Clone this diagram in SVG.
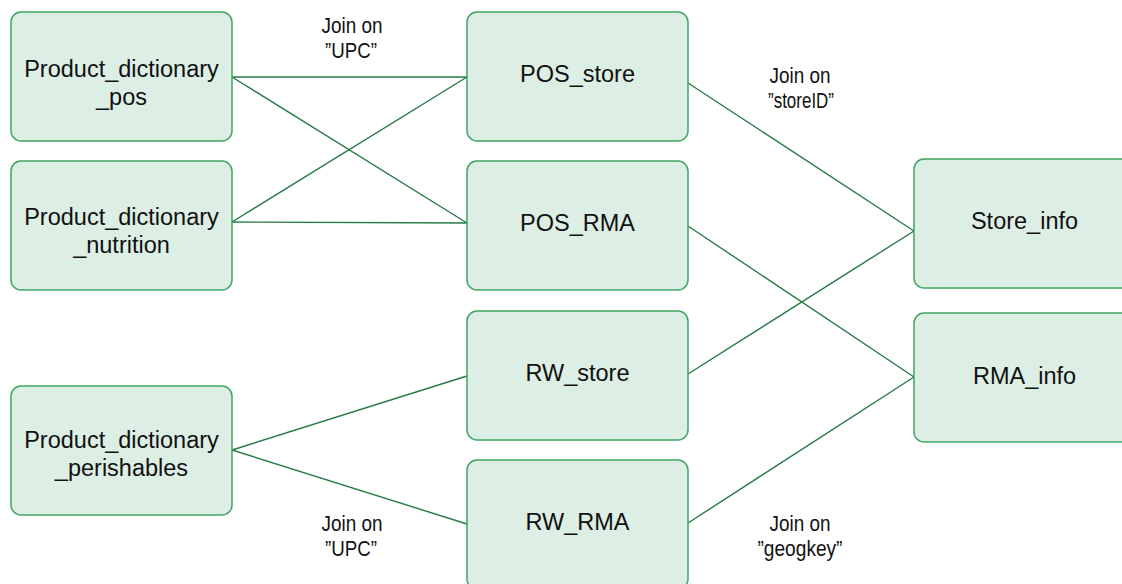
<svg xmlns="http://www.w3.org/2000/svg" width="1122" height="584" viewBox="0 0 1122 584">
<style>
.box{fill:#ddeee5;stroke:#3fa562;stroke-width:1.5}
.lbl{font-family:"Liberation Sans",Arial,sans-serif;font-size:23.5px;fill:#111;text-anchor:middle}
.join{font-family:"Liberation Sans",Arial,sans-serif;font-size:22px;fill:#111;text-anchor:middle}
.edge{stroke:#257a45;stroke-width:1.4;fill:none}
</style>
<rect width="1122" height="584" fill="#ffffff"/>
<g id="connectors">
<line class="edge" x1="232" y1="77" x2="467" y2="77"/>
<line class="edge" x1="232" y1="77" x2="467" y2="223"/>
<line class="edge" x1="232" y1="222" x2="467" y2="77"/>
<line class="edge" x1="232" y1="222" x2="467" y2="223"/>
<line class="edge" x1="688" y1="83" x2="914" y2="231"/>
<line class="edge" x1="688" y1="226" x2="914" y2="377"/>
<line class="edge" x1="688" y1="374" x2="914" y2="231"/>
<line class="edge" x1="688" y1="523" x2="914" y2="377"/>
<line class="edge" x1="232" y1="450" x2="467" y2="376"/>
<line class="edge" x1="232" y1="450" x2="467" y2="524"/>
</g>
<g id="labels">
<text class="join" x="352" y="33" textLength="61" lengthAdjust="spacingAndGlyphs">Join on</text>
<text class="join" x="351" y="58" textLength="52" lengthAdjust="spacingAndGlyphs">”UPC”</text>
<text class="join" x="800" y="83" textLength="61" lengthAdjust="spacingAndGlyphs">Join on</text>
<text class="join" x="801" y="108" textLength="66" lengthAdjust="spacingAndGlyphs">”storeID”</text>
<text class="join" x="352" y="531" textLength="61" lengthAdjust="spacingAndGlyphs">Join on</text>
<text class="join" x="351" y="556" textLength="52" lengthAdjust="spacingAndGlyphs">”UPC”</text>
<text class="join" x="800" y="531" textLength="61" lengthAdjust="spacingAndGlyphs">Join on</text>
<text class="join" x="800" y="556" textLength="85" lengthAdjust="spacingAndGlyphs">”geogkey”</text>
</g>
<g id="node-pd-pos">
<rect class="box" x="11" y="12" width="221" height="129" rx="10"/>
<text class="lbl" x="121.5" y="77">Product_dictionary</text>
<text class="lbl" x="121.5" y="105">_pos</text>
</g>
<g id="node-pd-nutrition">
<rect class="box" x="11" y="161" width="221" height="129" rx="10"/>
<text class="lbl" x="121.5" y="225">Product_dictionary</text>
<text class="lbl" x="121.5" y="253">_nutrition</text>
</g>
<g id="node-pd-perishables">
<rect class="box" x="11" y="386" width="221" height="129" rx="10"/>
<text class="lbl" x="121.5" y="448">Product_dictionary</text>
<text class="lbl" x="121.5" y="476">_perishables</text>
</g>
<g id="node-pos-store">
<rect class="box" x="467" y="12" width="221" height="129" rx="10"/>
<text class="lbl" x="577.5" y="82">POS_store</text>
</g>
<g id="node-pos-rma">
<rect class="box" x="467" y="161" width="221" height="129" rx="10"/>
<text class="lbl" x="577.5" y="231">POS_RMA</text>
</g>
<g id="node-rw-store">
<rect class="box" x="467" y="311" width="221" height="129" rx="10"/>
<text class="lbl" x="577.5" y="381">RW_store</text>
</g>
<g id="node-rw-rma">
<rect class="box" x="467" y="460" width="221" height="129" rx="10"/>
<text class="lbl" x="577.5" y="530">RW_RMA</text>
</g>
<g id="node-store-info">
<rect class="box" x="914" y="159" width="221" height="129" rx="10"/>
<text class="lbl" x="1024.5" y="229">Store_info</text>
</g>
<g id="node-rma-info">
<rect class="box" x="914" y="313" width="221" height="129" rx="10"/>
<text class="lbl" x="1024.5" y="384">RMA_info</text>
</g>
</svg>
